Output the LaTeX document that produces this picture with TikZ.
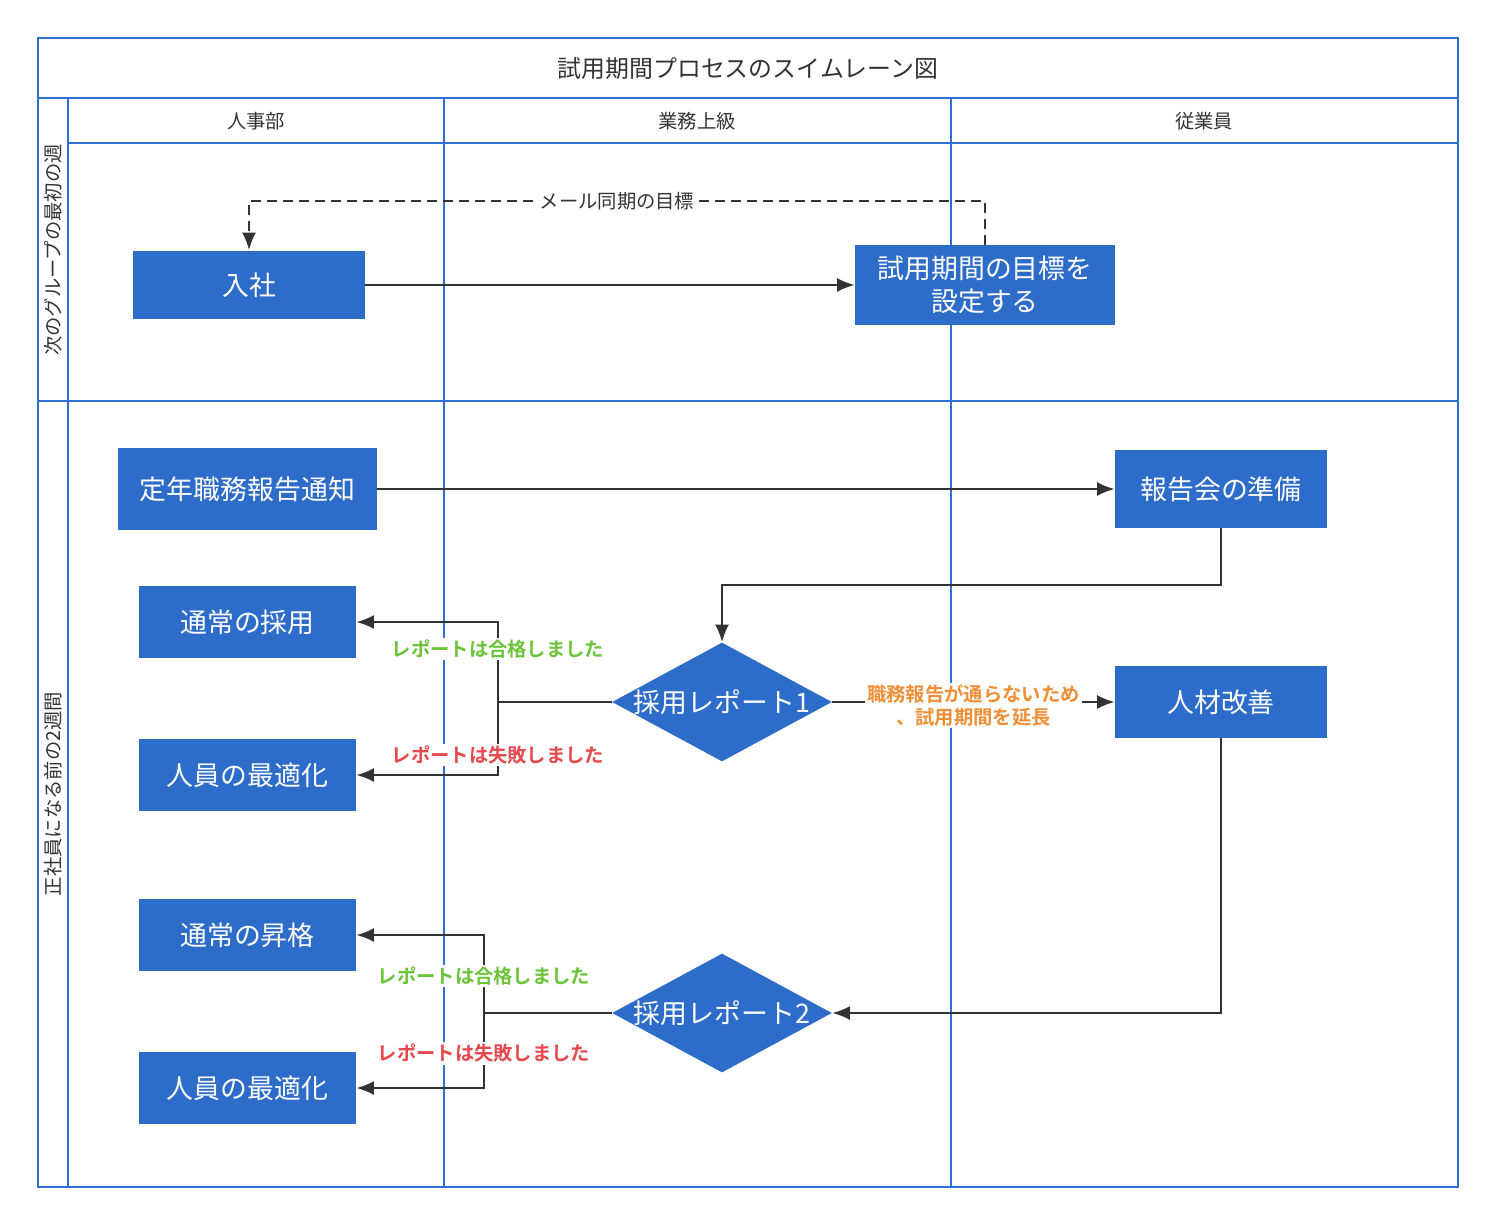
\documentclass[tikz,border=0pt]{standalone}
\usepackage{fontspec}
\setmainfont{Noto Sans CJK JP}[BoldFont={Noto Sans CJK JP Bold}]
\usepackage{xcolor}
\usetikzlibrary{arrows.meta,shapes.geometric}

\definecolor{laneblue}{HTML}{2F6FD3}
\definecolor{boxblue}{HTML}{2D6CC8}
\definecolor{inkgray}{HTML}{333333}
\definecolor{passgreen}{HTML}{6CC43A}
\definecolor{failred}{HTML}{E5484D}
\definecolor{holdorange}{HTML}{EF8E35}

\begin{document}
\begin{tikzpicture}[
    x=0.02cm, y=-0.02cm,
    lane/.style={draw=laneblue, line width=1.6pt},
    task/.style={
        fill=boxblue, text=white, align=center, inner sep=0pt,
        font=\fontsize{15.3}{18.7}\selectfont
    },
    decide/.style={
        diamond, fill=boxblue, inner sep=0pt,
        minimum width=4.4cm, minimum height=2.38cm
    },
    flow/.style={
        draw=inkgray, line width=1.3pt,
        -{Latex[length=10pt,width=8pt]}
    },
    cond/.style={
        fill=white, inner sep=1pt,
        font=\bfseries\fontsize{11}{13.5}\selectfont
    },
    head/.style={text=inkgray, font=\fontsize{11}{13}\selectfont}
]

    \useasboundingbox (0,0) rectangle (1495,1224);

    %------------------------------------------------
    % Swimlane frame
    %------------------------------------------------

    \draw[lane] (38,38) rectangle (1458,1187);
    \draw[lane] (38,98) -- (1458,98);
    \draw[lane] (68,143) -- (1458,143);
    \draw[lane] (38,401) -- (1458,401);
    \draw[lane] (68,98) -- (68,1187);
    \draw[lane] (444,98) -- (444,1187);
    \draw[lane] (951,98) -- (951,1187);

    %------------------------------------------------
    % Titles
    %------------------------------------------------

    \node[head, font=\fontsize{13.6}{16}\selectfont]
        (title) at (748,68) {試用期間プロセスのスイムレーン図};

    \node[head] (hr)    at (256,121)  {人事部};
    \node[head] (boss)  at (697,121)  {業務上級};
    \node[head] (staff) at (1204,121) {従業員};

    \node[head, rotate=90] (week1) at (53,250) {次のグループの最初の週};
    \node[head, rotate=90] (week2) at (53,794) {正社員になる前の2週間};

    %------------------------------------------------
    % Tasks
    %------------------------------------------------

    \node[task, minimum width=4.64cm, minimum height=1.38cm]
        (join) at (249,285) {入社};
    \node[task, minimum width=5.2cm, minimum height=1.6cm]
        (goal) at (985,285) {試用期間の目標を\\設定する};

    \node[task, minimum width=5.18cm, minimum height=1.64cm]
        (notice) at (247.5,489) {定年職務報告通知};
    \node[task, minimum width=4.24cm, minimum height=1.56cm]
        (prep) at (1221,489) {報告会の準備};

    \node[task, minimum width=4.34cm, minimum height=1.44cm]
        (hire) at (247.5,622) {通常の採用};
    \node[task, minimum width=4.34cm, minimum height=1.44cm]
        (optA) at (247.5,775) {人員の最適化};
    \node[task, minimum width=4.24cm, minimum height=1.44cm]
        (improve) at (1221,702) {人材改善};

    \node[task, minimum width=4.34cm, minimum height=1.44cm]
        (promote) at (247.5,935) {通常の昇格};
    \node[task, minimum width=4.34cm, minimum height=1.44cm]
        (optB) at (247.5,1088) {人員の最適化};

    %------------------------------------------------
    % Decisions
    %------------------------------------------------

    \node[decide,
        label={[text=white, font=\fontsize{15.3}{18.7}\selectfont]center:採用レポート1}]
        (rep1) at (722,702) {};
    \node[decide,
        label={[text=white, font=\fontsize{15.3}{18.7}\selectfont]center:採用レポート2}]
        (rep2) at (722,1013) {};

    \coordinate (split1) at (498,702);
    \coordinate (split2) at (484,1013);

    %------------------------------------------------
    % First week
    %------------------------------------------------

    \draw[flow] (join) -- (goal);

    \draw[flow, dash pattern=on 5.7pt off 3.4pt]
        (goal.north) -- (goal.north |- 0,201)
        -| (join.north)
        node[pos=0.25, head, fill=white, inner sep=1pt] {メール同期の目標};

    %------------------------------------------------
    % Last two weeks
    %------------------------------------------------

    \draw[flow] (notice) -- (prep);

    \draw[flow]
        (prep.south) -- (prep.south |- 0,585)
        -| (rep1.north);

    \draw[draw=inkgray, line width=1.3pt] (rep1.west) -- (split1);

    \draw[flow]
        (split1) |- (hire.east)
        node[pos=0.33, cond, text=passgreen] {レポートは合格しました};

    \draw[flow]
        (split1) |- (optA.east)
        node[pos=0.36, cond, text=failred] {レポートは失敗しました};

    \draw[flow]
        (rep1.east) -- (improve.west)
        node[midway, cond, text=holdorange, align=center, yshift=-2pt]
        {職務報告が通らないため\\、試用期間を延長};

    \draw[flow]
        (improve.south) |- (rep2.east);

    \draw[draw=inkgray, line width=1.3pt] (rep2.west) -- (split2);

    \draw[flow]
        (split2) |- (promote.east)
        node[pos=0.24, cond, text=passgreen] {レポートは合格しました};

    \draw[flow]
        (split2) |- (optB.east)
        node[pos=0.27, cond, text=failred] {レポートは失敗しました};

\end{tikzpicture}
\end{document}
